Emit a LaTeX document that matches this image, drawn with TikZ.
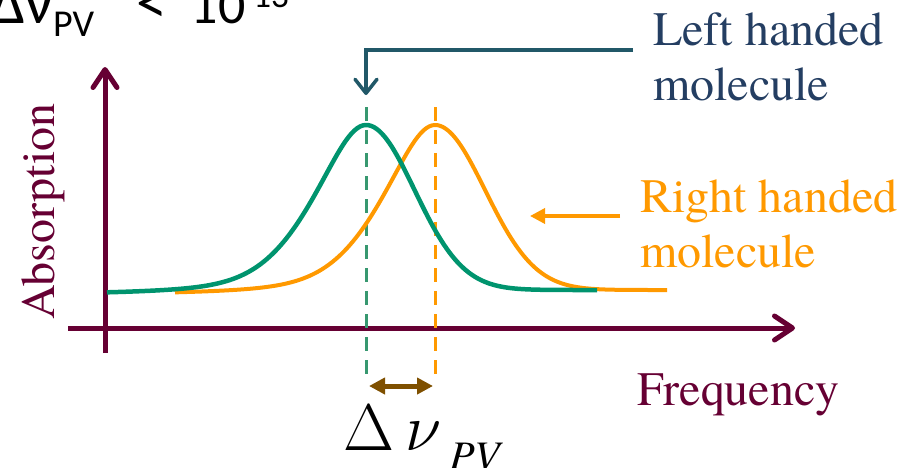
\documentclass[tikz,border=0pt]{standalone}
\usepackage{fix-cm}
\usepackage{fontspec}
\setmainfont{Liberation Serif}
\newfontfamily\serifx{texgyretermes-regular.otf}[ItalicFont=texgyretermes-italic.otf]
\newfontfamily\carlito{Carlito}
\usetikzlibrary{arrows.meta}
\definecolor{maroon}{RGB}{102,0,51}
\definecolor{grn}{RGB}{0,148,110}
\definecolor{grnd}{RGB}{55,152,112}
\definecolor{org}{RGB}{255,153,0}
\definecolor{tealarrow}{RGB}{33,88,104}
\definecolor{navytext}{RGB}{36,62,98}
\definecolor{brn}{RGB}{127,80,0}
\begin{document}
\begin{tikzpicture}[x=1pt,y=-1pt,
  declare function={pv(\t)=0.5*exp(-0.5*\t*\t)+0.5/(1+\t*\t); gs(\t)=exp(-0.5*\t*\t);},
  lbl/.style={font=\serifx\fontsize{48}{55}\selectfont, inner sep=0pt, anchor=base west},
  axisline/.style={maroon, line width=5pt, -{Straight Barb[length=18pt,width=24pt,line width=5pt,round]}},
  dashline/.style={line width=3pt, dash pattern=on 14pt off 9pt},
  curve/.style={line width=4.5pt, line join=round}]
\useasboundingbox (0,0) rectangle (912,467);
\clip (0,0) rectangle (912,467);

% axes
\coordinate (yb) at (105,353);
\coordinate (yt) at (105,67);
\coordinate (xl) at (68,328);
\coordinate (xr) at (795,328);
\draw[axisline] (yb) -- (yt);
\draw[axisline] (xl) -- (xr);

% dashed peak markers
\coordinate (gtop) at (366,107);
\coordinate (gbot) at (366,378);
\coordinate (otop) at (435,107);
\coordinate (obot) at (435,378);
\draw[dashline, grnd] (gtop) -- (gbot);
\draw[dashline, org] (otop) -- (obot);

% curves
\draw[curve, org, line width=4pt]
  plot[domain=175:435, samples=90] (\x,{296-171*pv((\x-435)/55)})
  -- plot[domain=435:667, samples=90] (\x,{290-165*gs((\x-435)/50)});
\draw[curve, grn]
  plot[domain=107:366, samples=90] (\x,{296-171*pv((\x-366)/55)})
  -- plot[domain=366:597, samples=90] (\x,{290-165*gs((\x-366)/48.5)});

% delta nu arrow
\coordinate (dl) at (369,386);
\coordinate (dr) at (433,386);
\draw[brn, line width=5pt, {Triangle[length=16pt,width=16pt]}-{Triangle[length=16pt,width=16pt]}] (dl) -- (dr);

% labels
\node[lbl, maroon, rotate=90] (absorb) at (54,320) {Absorption};
\node[lbl, maroon] (freq) at (637,405) {Frequency};
\node[lbl, navytext] (lh1) at (653,45) {Left handed};
\node[lbl, navytext] (lh2) at (653,100) {molecule};
\node[lbl, org] (rh1) at (640,212) {Right handed};
\node[lbl, org] (rh2) at (640,267) {molecule};
\node[inner sep=0pt, anchor=base west] (dnu) at (343,450)
  {\fontsize{66}{70}\selectfont $\Delta\,\nu$\hspace{8pt}\raisebox{-20pt}{\serifx\itshape\fontsize{42}{42}\selectfont PV}};
\node[inner sep=0pt, anchor=base west] (ineq) at (-10,23)
  {\carlito\fontsize{62}{64}\selectfont Δν\raisebox{-13pt}{\fontsize{38}{38}\selectfont PV}\hspace{42pt}<\hspace{24pt}{\fontsize{54}{56}\selectfont 10}\hspace{-3pt}\raisebox{16pt}{\fontsize{35}{35}\selectfont -13}};

% pointer arrows
\coordinate (lhs) at (633,50);
\coordinate (lhc) at (366,50);
\coordinate (lht) at (366,95);
\draw[tealarrow, line width=3.5pt, line join=miter, -{Straight Barb[length=14pt,width=22pt,line width=3.5pt,round]}] (lhs) -- (lhc) -- (lht);
\coordinate (rhs) at (620,216);
\coordinate (rht) at (530,216);
\draw[org, line width=3.5pt, -{Triangle[length=15pt,width=15pt]}] (rhs) -- (rht);
\end{tikzpicture}
\end{document}
